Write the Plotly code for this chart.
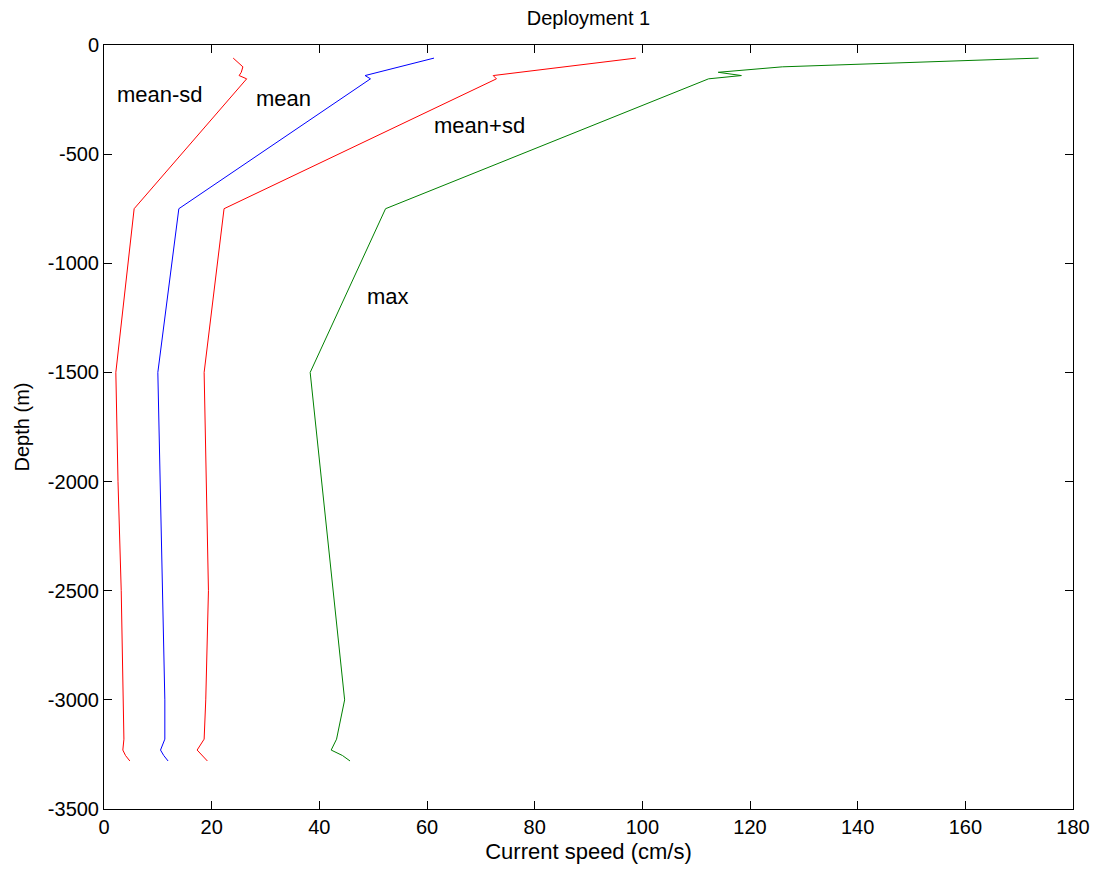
import plotly.graph_objects as go

depth = [-60, -100, -125, -140, -155, -750, -1500, -2000, -2500, -3000, -3180, -3230, -3255, -3280]
mean_minus_sd = [24.0, 25.8, 25.5, 25.1, 26.5, 5.6, 2.2, 2.6, 3.2, 3.6, 3.7, 3.5, 4.0, 4.8]
mean = [61.3, 55.0, 51.0, 48.5, 49.5, 13.9, 10.0, 10.4, 10.9, 11.3, 11.3, 10.5, 11.1, 11.9]
mean_plus_sd = [98.8, 85.5, 77.3, 72.3, 72.9, 22.3, 18.6, 19.0, 19.4, 18.9, 18.6, 17.3, 18.2, 19.2]
max_speed = [173.6, 126.0, 114.1, 118.4, 112.3, 52.3, 38.3, 40.4, 42.6, 44.7, 43.2, 42.2, 44.3, 45.7]

labels = ["mean-sd", "mean", "mean+sd", "max"]
label_x = [10.4, 33.4, 69.8, 52.8]
label_y = [-229, -247, -371, -1150]

x_ticks = list(range(0, 181, 20))
y_ticks = list(range(-3500, 1, 500))

FONT = "Liberation Sans, Arial, sans-serif"

fig = go.Figure()
for xs, col in [(mean_minus_sd, "#ff0000"), (mean, "#0000ff"), (mean_plus_sd, "#ff0000"), (max_speed, "#008000")]:
    fig.add_trace(go.Scatter(x=xs, y=depth, mode="lines", line=dict(color=col, width=1), showlegend=False))

for t, xx, yy in zip(labels, label_x, label_y):
    fig.add_annotation(x=xx, y=yy, text=t, showarrow=False, font=dict(family=FONT, size=22, color="black"))

axis_common = dict(showgrid=False, zeroline=False, showline=True, linecolor="black", linewidth=1,
                   mirror="ticks", ticks="inside", ticklen=8, tickcolor="black",
                   tickfont=dict(family=FONT, size=20, color="black"))

fig.update_layout(
    width=1101, height=875,
    margin=dict(l=96, r=36, t=37, b=74),
    paper_bgcolor="white", plot_bgcolor="white",
    title=dict(text="Deployment 1", xref="paper", x=0.5, xanchor="center", y=0.989, yanchor="middle",
               font=dict(family=FONT, size=20, color="black")),
    xaxis=dict(range=[0, 180], tickvals=x_ticks, ticktext=[str(v) for v in x_ticks],
               title=dict(text="Current speed (cm/s)", standoff=6,
                          font=dict(family=FONT, size=22, color="black")), **axis_common),
    yaxis=dict(range=[-3500, 0], tickvals=y_ticks, ticktext=[str(v) for v in y_ticks],
               title=dict(text="Depth (m)", standoff=12,
                          font=dict(family=FONT, size=20, color="black")), **axis_common),
)

fig.write_html("out.html")
